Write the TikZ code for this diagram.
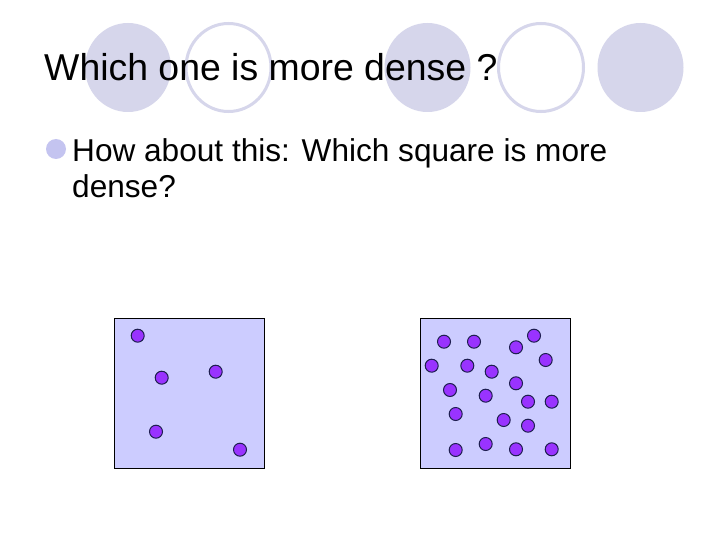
\documentclass[tikz,border=0pt]{standalone}
\usepackage{fontspec}
\setmainfont{Liberation Sans}
\definecolor{deco}{RGB}{214,214,235}
\definecolor{bul}{RGB}{196,196,240}
\definecolor{sqfill}{RGB}{204,204,255}
\definecolor{dotfill}{RGB}{153,51,255}
\definecolor{dotline}{RGB}{30,30,80}
\begin{document}
\begin{tikzpicture}[x=1pt,y=-1pt,
  filledc/.style={fill=deco,draw=none},
  ringc/.style={draw=deco,line width=3pt,fill=white},
  sq/.style={draw=black,fill=sqfill,line width=0.8pt},
  dot/.style={circle,fill=dotfill,draw=dotline,line width=1pt,minimum size=13pt,inner sep=0pt},
  titletxt/.style={anchor=base west,inner sep=0pt,font=\fontsize{37.4}{44}\selectfont},
  bodytxt/.style={anchor=base west,inner sep=0pt,font=\fontsize{31.6}{35}\selectfont}]
\useasboundingbox (0,0) rectangle (720,540);
\fill[white] (0,0) rectangle (720,540);
% decorative circles
\path[filledc] (128,67.5) ellipse [x radius=43, y radius=44.5];
\path[ringc] (228.5,67.5) ellipse [x radius=42.5, y radius=44];
\path[filledc] (427.5,67.5) ellipse [x radius=43, y radius=44.5];
\path[ringc] (541,67.5) ellipse [x radius=42.5, y radius=44];
\path[filledc] (640.5,67.5) ellipse [x radius=43, y radius=44.5];
% title
\node[titletxt] (title) at (44,81) {Which one is more dense ?};
% bullet
\fill[bul] (56,149) circle [radius=10];
\node[bodytxt] (l1) at (72,162) {How about this: Which square is more};
\node[bodytxt] (l2) at (72,197) {dense?};
% squares
\draw[sq] (114,318) rectangle (264.5,468);
\draw[sq] (420,318) rectangle (570,468);
% left dots
\foreach \p [count=\i] in {(137.7,335.7),(161.7,377.7),(215.7,371.7),(156,431.7),(240,449.7)}
  \node[dot] (a\i) at \p {};
% right dots
\foreach \p [count=\i] in {(444,341.7),(474,341.7),(534,335.7),(516,347.3),(431.7,365.7),(467.3,365.7),(545.7,360),(491.7,371.7),(516,383.3),(450,390),(485.7,395.7),(528,401.7),(551.7,401.7),(455.7,414),(503.7,420),(528,425.7),(455.7,450),(485.7,444),(516,449.3),(551.7,449.3)}
  \node[dot] (b\i) at \p {};
\end{tikzpicture}
\end{document}
